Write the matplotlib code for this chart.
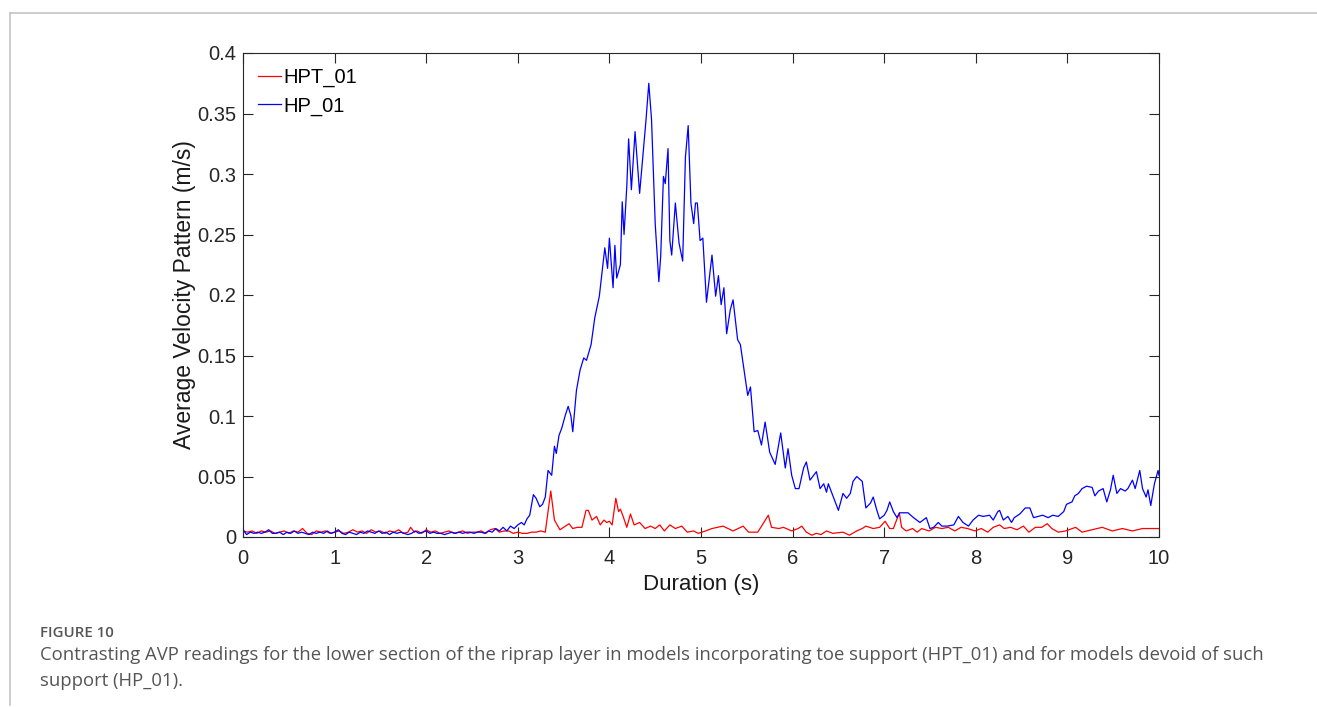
import matplotlib
matplotlib.use("Agg")
import matplotlib.pyplot as plt
from matplotlib.lines import Line2D

# HP_01 (blue)
hp_t = [0.00, 0.04, 0.08, 0.12, 0.16, 0.20, 0.24, 0.28, 0.32, 0.36, 0.40, 0.44, 0.48, 0.52,
        0.56, 0.60, 0.64, 0.68, 0.72, 0.76, 0.80, 0.84, 0.88, 0.92, 0.96, 1.00, 1.04, 1.08,
        1.12, 1.16, 1.20, 1.24, 1.28, 1.32, 1.36, 1.40, 1.44, 1.48, 1.52, 1.56, 1.60, 1.64,
        1.68, 1.72, 1.76, 1.80, 1.84, 1.88, 1.92, 1.96, 2.00, 2.04, 2.08, 2.12, 2.16, 2.20,
        2.24, 2.28, 2.32, 2.36, 2.40, 2.44, 2.48, 2.52, 2.56, 2.60, 2.64, 2.68, 2.72, 2.76,
        2.80, 2.84, 2.88, 2.92, 2.96, 3.00, 3.04, 3.07, 3.10, 3.13, 3.17, 3.20, 3.24, 3.27,
        3.30, 3.33, 3.37, 3.40, 3.42, 3.45, 3.48, 3.52, 3.55, 3.58, 3.60, 3.64, 3.68, 3.72,
        3.75, 3.80, 3.84, 3.89, 3.95, 3.98, 4.00, 4.04, 4.06, 4.08, 4.12, 4.14, 4.16, 4.19,
        4.21, 4.24, 4.28, 4.33, 4.40, 4.43, 4.46, 4.50, 4.54, 4.56, 4.59, 4.61, 4.64, 4.66,
        4.68, 4.72, 4.76, 4.80, 4.83, 4.86, 4.89, 4.92, 4.94, 4.96, 4.99, 5.02, 5.06, 5.12,
        5.16, 5.19, 5.22, 5.25, 5.28, 5.32, 5.35, 5.40, 5.43, 5.47, 5.51, 5.54, 5.58, 5.62,
        5.66, 5.70, 5.75, 5.81, 5.87, 5.92, 5.95, 5.99, 6.03, 6.07, 6.12, 6.15, 6.19, 6.26,
        6.30, 6.34, 6.37, 6.39, 6.45, 6.50, 6.55, 6.59, 6.63, 6.66, 6.70, 6.76, 6.80, 6.85,
        6.88, 6.92, 6.95, 7.00, 7.03, 7.06, 7.10, 7.14, 7.17, 7.21, 7.26, 7.32, 7.39, 7.46,
        7.50, 7.54, 7.59, 7.63, 7.69, 7.76, 7.81, 7.86, 7.92, 7.97, 8.03, 8.08, 8.15, 8.19,
        8.24, 8.26, 8.30, 8.35, 8.39, 8.42, 8.48, 8.54, 8.59, 8.63, 8.68, 8.73, 8.79, 8.84,
        8.90, 8.96, 8.99, 9.05, 9.08, 9.12, 9.16, 9.21, 9.27, 9.30, 9.34, 9.39, 9.43, 9.47,
        9.50, 9.54, 9.58, 9.63, 9.66, 9.71, 9.74, 9.79, 9.82, 9.86, 9.88, 9.91, 9.95, 9.99,
        10.00]
hp_v = [0.006, 0.002, 0.004, 0.003, 0.004, 0.003, 0.004, 0.006, 0.003, 0.003, 0.004, 0.002, 0.004, 0.003,
        0.005, 0.003, 0.004, 0.003, 0.002, 0.004, 0.003, 0.004, 0.003, 0.005, 0.003, 0.004, 0.006, 0.003,
        0.002, 0.004, 0.003, 0.002, 0.004, 0.003, 0.005, 0.004, 0.003, 0.005, 0.003, 0.004, 0.002, 0.004,
        0.003, 0.004, 0.003, 0.002, 0.003, 0.005, 0.003, 0.004, 0.005, 0.003, 0.004, 0.003, 0.003, 0.002,
        0.003, 0.004, 0.003, 0.004, 0.003, 0.004, 0.004, 0.003, 0.004, 0.004, 0.003, 0.005, 0.004, 0.007,
        0.005, 0.008, 0.005, 0.009, 0.007, 0.010, 0.012, 0.010, 0.015, 0.018, 0.035, 0.032, 0.025, 0.027,
        0.033, 0.055, 0.051, 0.075, 0.069, 0.084, 0.090, 0.101, 0.108, 0.100, 0.087, 0.121, 0.138, 0.148,
        0.146, 0.159, 0.181, 0.199, 0.239, 0.222, 0.247, 0.206, 0.241, 0.214, 0.225, 0.277, 0.250, 0.290,
        0.329, 0.287, 0.335, 0.284, 0.345, 0.375, 0.345, 0.259, 0.211, 0.232, 0.298, 0.292, 0.321, 0.245,
        0.233, 0.276, 0.243, 0.228, 0.314, 0.340, 0.276, 0.259, 0.276, 0.276, 0.245, 0.247, 0.194, 0.233,
        0.199, 0.216, 0.192, 0.206, 0.168, 0.188, 0.196, 0.163, 0.159, 0.138, 0.117, 0.124, 0.087, 0.088,
        0.076, 0.095, 0.070, 0.060, 0.086, 0.057, 0.073, 0.051, 0.040, 0.040, 0.057, 0.062, 0.047, 0.054,
        0.040, 0.044, 0.037, 0.044, 0.032, 0.022, 0.036, 0.032, 0.036, 0.046, 0.050, 0.046, 0.024, 0.028,
        0.033, 0.022, 0.015, 0.018, 0.022, 0.029, 0.021, 0.016, 0.020, 0.020, 0.020, 0.016, 0.012, 0.016,
        0.007, 0.008, 0.012, 0.009, 0.009, 0.010, 0.017, 0.012, 0.009, 0.014, 0.018, 0.017, 0.018, 0.014,
        0.021, 0.022, 0.014, 0.017, 0.012, 0.016, 0.019, 0.024, 0.024, 0.016, 0.017, 0.018, 0.016, 0.018,
        0.017, 0.021, 0.027, 0.029, 0.034, 0.036, 0.040, 0.042, 0.041, 0.034, 0.038, 0.040, 0.029, 0.039,
        0.051, 0.036, 0.040, 0.038, 0.040, 0.047, 0.040, 0.055, 0.040, 0.033, 0.039, 0.026, 0.044, 0.055,
        0.051]

# HPT_01 (red)
hpt_t = [0.00, 0.05, 0.10, 0.15, 0.20, 0.25, 0.30, 0.35, 0.40, 0.45, 0.50, 0.55, 0.60, 0.65,
         0.70, 0.75, 0.80, 0.85, 0.90, 0.95, 1.00, 1.05, 1.10, 1.15, 1.20, 1.25, 1.30, 1.35,
         1.40, 1.45, 1.50, 1.55, 1.60, 1.65, 1.70, 1.75, 1.80, 1.83, 1.87, 1.90, 1.95, 2.00,
         2.05, 2.10, 2.15, 2.20, 2.25, 2.30, 2.35, 2.40, 2.45, 2.50, 2.55, 2.60, 2.65, 2.70,
         2.75, 2.80, 2.85, 2.90, 2.95, 3.00, 3.05, 3.10, 3.15, 3.20, 3.25, 3.30, 3.36, 3.40,
         3.46, 3.50, 3.56, 3.60, 3.65, 3.70, 3.745, 3.77, 3.81, 3.86, 3.90, 3.94, 3.97, 4.00,
         4.03, 4.07, 4.10, 4.12, 4.15, 4.19, 4.23, 4.27, 4.33, 4.39, 4.45, 4.50, 4.55, 4.60,
         4.66, 4.72, 4.79, 4.85, 4.92, 4.97, 5.05, 5.12, 5.24, 5.35, 5.46, 5.52, 5.62, 5.735,
         5.77, 5.85, 5.90, 5.99, 6.06, 6.10, 6.15, 6.21, 6.26, 6.31, 6.37, 6.44, 6.55, 6.62,
         6.70, 6.76, 6.80, 6.88, 6.95, 7.01, 7.06, 7.10, 7.165, 7.19, 7.24, 7.31, 7.36, 7.41,
         7.49, 7.56, 7.63, 7.70, 7.77, 7.84, 7.91, 7.99, 8.06, 8.13, 8.19, 8.26, 8.31, 8.38,
         8.45, 8.52, 8.58, 8.65, 8.72, 8.78, 8.83, 8.90, 8.98, 9.09, 9.16, 9.27, 9.38, 9.49,
         9.60, 9.71, 9.82, 9.93, 10.00]
hpt_v = [0.005, 0.004, 0.005, 0.003, 0.005, 0.004, 0.005, 0.003, 0.004, 0.005, 0.003, 0.005, 0.004, 0.007,
         0.003, 0.002, 0.005, 0.004, 0.005, 0.003, 0.004, 0.005, 0.003, 0.004, 0.006, 0.004, 0.005, 0.003,
         0.006, 0.004, 0.005, 0.003, 0.005, 0.004, 0.006, 0.003, 0.004, 0.008, 0.004, 0.005, 0.003, 0.006,
         0.004, 0.005, 0.003, 0.004, 0.005, 0.003, 0.004, 0.005, 0.003, 0.004, 0.004, 0.005, 0.003, 0.006,
         0.007, 0.004, 0.005, 0.005, 0.003, 0.004, 0.003, 0.003, 0.004, 0.004, 0.005, 0.004, 0.038, 0.014,
         0.006, 0.008, 0.011, 0.007, 0.008, 0.008, 0.022, 0.022, 0.014, 0.017, 0.010, 0.014, 0.012, 0.013,
         0.010, 0.032, 0.021, 0.023, 0.017, 0.008, 0.019, 0.010, 0.012, 0.007, 0.009, 0.007, 0.010, 0.005,
         0.010, 0.007, 0.009, 0.004, 0.005, 0.003, 0.005, 0.007, 0.009, 0.005, 0.009, 0.004, 0.004, 0.018,
         0.008, 0.007, 0.008, 0.005, 0.007, 0.009, 0.004, 0.0015, 0.003, 0.002, 0.005, 0.003, 0.004, 0.0015,
         0.005, 0.007, 0.009, 0.007, 0.008, 0.013, 0.007, 0.007, 0.020, 0.008, 0.005, 0.007, 0.004, 0.007,
         0.005, 0.008, 0.007, 0.008, 0.005, 0.008, 0.007, 0.005, 0.007, 0.004, 0.008, 0.010, 0.007, 0.008,
         0.006, 0.009, 0.004, 0.008, 0.008, 0.011, 0.007, 0.004, 0.005, 0.008, 0.004, 0.006, 0.008, 0.005,
         0.007, 0.005, 0.007, 0.007, 0.007]

x_ticks = [0, 1, 2, 3, 4, 5, 6, 7, 8, 9, 10]
y_ticks = [0, 0.05, 0.1, 0.15, 0.2, 0.25, 0.3, 0.35, 0.4]
y_tick_labels = ["0", "0.05", "0.1", "0.15", "0.2", "0.25", "0.3", "0.35", "0.4"]

plt.rcParams["font.family"] = ["Liberation Sans", "DejaVu Sans"]

fig = plt.figure(figsize=(13.17, 7.07), dpi=100)
W, H = 1317, 707

# page frame lines (top and left)
fig.add_artist(Line2D([10 / W, 1.0], [1 - 13 / H, 1 - 13 / H], color="#c4c4c4", lw=1.2))
fig.add_artist(Line2D([10 / W, 10 / W], [1 - 13 / H, 1 - 705 / H], color="#c4c4c4", lw=1.2))

ax = fig.add_axes([243 / W, 1 - 537 / H, (1159 - 243) / W, (537 - 53) / H])
ax.plot(hpt_t, hpt_v, color="#ff0000", lw=0.9, label="HPT_01")
ax.plot(hp_t, hp_v, color="#0000ff", lw=0.9, label="HP_01")

ax.set_xlim(0, 10)
ax.set_ylim(0, 0.4)
ax.set_xticks(x_ticks)
ax.set_yticks(y_ticks)
ax.set_yticklabels(y_tick_labels)
ax.tick_params(direction="in", top=True, right=True, length=7, width=0.8,
               labelsize=14.5, colors="#262626")
ax.tick_params(axis="x", pad=9)
ax.tick_params(axis="y", pad=5)
for s in ax.spines.values():
    s.set_color("#262626")
    s.set_linewidth(0.8)
ax.set_xlabel("Duration (s)", fontsize=16, color="#1a1a1a", labelpad=4)
ax.set_ylabel("Average Velocity Pattern (m/s)", fontsize=16.5, color="#1a1a1a", labelpad=1)

leg = ax.legend(loc="upper left", frameon=False, fontsize=14.5, handlelength=1.15,
                handletextpad=0.1, borderaxespad=0.35, labelspacing=0.45)

# caption
cap_font = ["Open Sans", "DejaVu Sans"]
fig.text(40 / W, 1 - 633 / H, "FIGURE 10", fontsize=10.8, color="#555555",
         family=cap_font, va="center", fontweight="semibold")
fig.text(40 / W, 1 - 655 / H,
         "Contrasting AVP readings for the lower section of the riprap layer in models incorporating toe support (HPT_01) and for models devoid of such",
         fontsize=13.3, color="#555555", family=cap_font, va="center")
fig.text(40 / W, 1 - 681 / H, "support (HP_01).",
         fontsize=13.3, color="#555555", family=cap_font, va="center")

fig.savefig("out.png", dpi=100)
